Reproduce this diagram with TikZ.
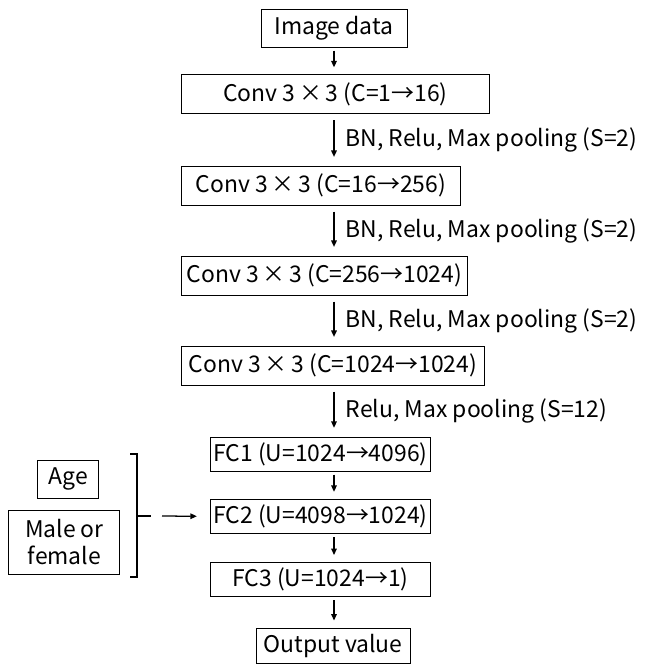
\documentclass[tikz,border=0pt]{standalone}
\usepackage{fontspec}
\setmainfont{Noto Sans CJK JP}
\usepackage{tikz}
\usetikzlibrary{arrows.meta,positioning}

\tikzset{
	layer/.style={draw,line width=0.6pt,minimum height=0.975cm,inner sep=0pt,anchor=west},
	fcbox/.style={draw,line width=0.6pt,minimum height=0.85cm,minimum width=5.5cm,inner sep=0pt,anchor=west},
	flow/.style={-{Triangle[length=1.6mm,width=1.4mm]},line width=0.9pt,shorten <=0.08cm,shorten >=0.18cm},
	longflow/.style={flow,shorten <=0.15cm,shorten >=0.22cm},
	steplabel/.style={right=0.28cm,inner sep=0pt}
}

\begin{document}
\begin{tikzpicture}[black,font=\fontsize{16.3}{19.5}\selectfont]

	\useasboundingbox (0,0) rectangle (16.15,-16.6);

	% Coordinates
	\coordinate(bT) at (3.25,-11.35);
	\coordinate(bM) at (3.425,-12.9);
	\coordinate(bB) at (3.25,-14.425);
	\coordinate(tip) at (3.775,-12.9);
	\coordinate(side) at (4.05,-12.9);

	% Input
	\node[draw,line width=0.6pt,minimum width=3.65cm,minimum height=0.95cm,inner sep=0pt] (img) at (8.35,-0.7) {Image data};

	% Convolution layers
	\node[layer,minimum width=7.7cm]   (conv1) at (4.525,-2.36) {Conv 3\,×\,3 (C=1→16)};
	\node[layer,minimum width=6.975cm] (conv2) at (4.525,-4.64) {Conv 3\,×\,3 (C=16→256)};
	\node[layer,minimum width=7.15cm]  (conv3) at (4.525,-6.89) {Conv 3\,×\,3 (C=256→1024)};
	\node[layer,minimum width=7.575cm] (conv4) at (4.525,-9.14) {Conv 3\,×\,3 (C=1024→1024)};

	% Fully connected layers
	\node[fcbox] (fc1) at (5.25,-11.35) {FC1 (U=1024→4096)};
	\node[fcbox] (fc2) at (5.25,-12.91) {FC2 (U=4098→1024)};
	\node[fcbox] (fc3) at (5.25,-14.49) {FC3 (U=1024→1)};

	% Output
	\node[draw,line width=0.6pt,minimum width=3.85cm,minimum height=0.875cm,inner sep=0pt] (out) at (8.325,-16.14) {Output value};

	% Extra inputs
	\node[draw,line width=0.6pt,minimum width=1.525cm,minimum height=0.95cm,inner sep=0pt] (age) at (1.71,-11.975) {Age};
	\node[draw,line width=0.6pt,minimum width=2.775cm,minimum height=1.6cm,inner sep=0pt,align=center] (sex) at (1.61,-13.55) {Male or\\female};

	% Arrows
	\draw[flow] (img.south) -- (img.south |- conv1.north);
	\draw[longflow] (img.south |- conv1.south) -- (img.south |- conv2.north)
		node[midway,steplabel]{BN, Relu, Max pooling (S=2)};
	\draw[longflow] (img.south |- conv2.south) -- (img.south |- conv3.north)
		node[midway,steplabel]{BN, Relu, Max pooling (S=2)};
	\draw[longflow] (img.south |- conv3.south) -- (img.south |- conv4.north)
		node[midway,steplabel]{BN, Relu, Max pooling (S=2)};
	\draw[longflow] (img.south |- conv4.south) -- (img.south |- fc1.north)
		node[midway,steplabel]{Relu, Max pooling (S=12)};
	\draw[flow] (img.south |- fc1.south) -- (img.south |- fc2.north);
	\draw[flow] (img.south |- fc2.south) -- (img.south |- fc3.north);
	\draw[flow] (img.south |- fc3.south) -- (img.south |- out.north);

	% Bracket
	\draw[line width=0.9pt] (bT) -- (bT -| bM) -- (bM |- bB) -- (bB);
	\draw[line width=0.9pt] (bM) -- (tip);
	\draw[flow,shorten <=0pt,shorten >=0.33cm] (side) -- (fc2.west);

\end{tikzpicture}
\end{document}
